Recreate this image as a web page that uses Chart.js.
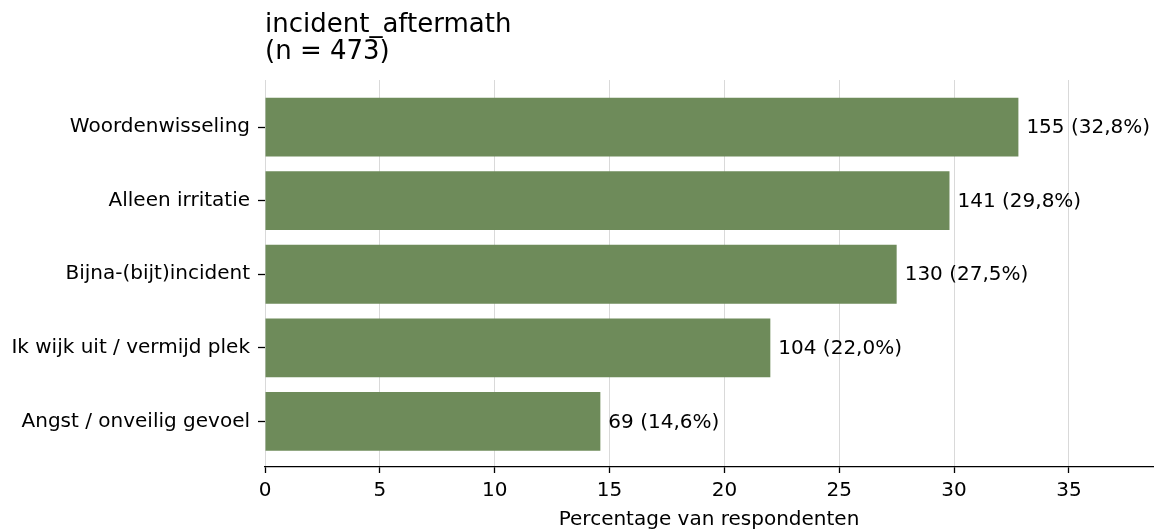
<!DOCTYPE html>
<html>
<head>
<meta charset="utf-8">
<script src="https://cdn.jsdelivr.net/npm/chart.js@4/dist/chart.umd.min.js"></script>
<style>
  html, body { margin: 0; padding: 0; background: #fff; }
  #wrap { width: 1156px; height: 532px; position: relative; }
</style>
</head>
<body>
<div id="wrap"><canvas id="chart" width="1156" height="532"></canvas></div>
<script>
// Data
const categories = ['Woordenwisseling', 'Alleen irritatie', 'Bijna-(bijt)incident', 'Ik wijk uit / vermijd plek', 'Angst / onveilig gevoel'];
const counts = [155, 141, 130, 104, 69];
const percentages = [32.8, 29.8, 27.5, 22.0, 14.6];
const xTicks = [0, 5, 10, 15, 20, 25, 30, 35];
const titleLines = ['incident_aftermath', '(n = 473)'];
const xTitle = 'Percentage van respondenten';

const FONT = "'DejaVu Sans', sans-serif";
const barColor = '#6e8b5a';

// Title drawn left-aligned with the plot area
const titlePlugin = {
  id: 'leftTitle',
  afterDraw(chart) {
    const c = chart.ctx;
    c.save();
    c.fillStyle = '#000';
    c.font = `26px ${FONT}`;
    c.textAlign = 'left';
    c.textBaseline = 'alphabetic';
    titleLines.forEach((t, i) => c.fillText(t, chart.chartArea.left, 32 + i * 27));
    c.restore();
  }
};

// Value labels at end of bars
const valueLabels = {
  id: 'valueLabels',
  afterDatasetsDraw(chart) {
    const c = chart.ctx;
    const meta = chart.getDatasetMeta(0);
    c.save();
    c.fillStyle = '#000';
    c.font = `20px ${FONT}`;
    c.textAlign = 'left';
    c.textBaseline = 'middle';
    meta.data.forEach((bar, i) => {
      const txt = `${counts[i]} (${percentages[i].toFixed(1).replace('.', ',')}%)`;
      c.fillText(txt, bar.x + 8, bar.y + 1);
    });
    c.restore();
  }
};

const ctx = document.getElementById('chart').getContext('2d');
new Chart(ctx, {
  type: 'bar',
  data: {
    datasets: [{
      data: percentages.map((p, i) => ({ x: p, y: i })),
      backgroundColor: barColor,
      borderWidth: 0,
      barPercentage: 0.8,
      categoryPercentage: 1.0
    }]
  },
  options: {
    indexAxis: 'y',
    responsive: false,
    animation: false,
    layout: { padding: { top: 80, right: 3, left: 0, bottom: 0 } },
    plugins: { legend: { display: false }, tooltip: { enabled: false }, title: { display: false } },
    scales: {
      x: {
        type: 'linear',
        min: 0,
        max: 38.66,
        afterBuildTicks: (s) => { s.ticks = xTicks.map(v => ({ value: v })); },
        afterFit: (s) => { s.height = 65; },
        ticks: { color: '#000', font: { family: FONT, size: 20 }, padding: 6, maxRotation: 0 },
        grid: { color: '#d9d9d9', lineWidth: 1, tickColor: '#000', tickLength: 6, tickWidth: 1.3 },
        border: { display: true, color: '#000', width: 1.3 },
        title: { display: true, text: xTitle, color: '#000', font: { family: FONT, size: 20 }, padding: { top: 0, bottom: 0 } }
      },
      y: {
        type: 'linear',
        reverse: true,
        offset: false,
        min: -0.64,
        max: 4.62,
        afterBuildTicks: (s) => { s.ticks = categories.map((_, i) => ({ value: i })); },
        afterFit: (s) => { s.width = 265; },
        ticks: { color: '#000', font: { family: FONT, size: 20 }, padding: 8, callback: (v) => categories[v] },
        grid: { offset: false, drawOnChartArea: false, drawTicks: true, tickLength: 7, tickColor: '#000', tickWidth: 1.3 },
        border: { display: false }
      }
    }
  },
  plugins: [titlePlugin, valueLabels]
});
</script>
</body>
</html>
